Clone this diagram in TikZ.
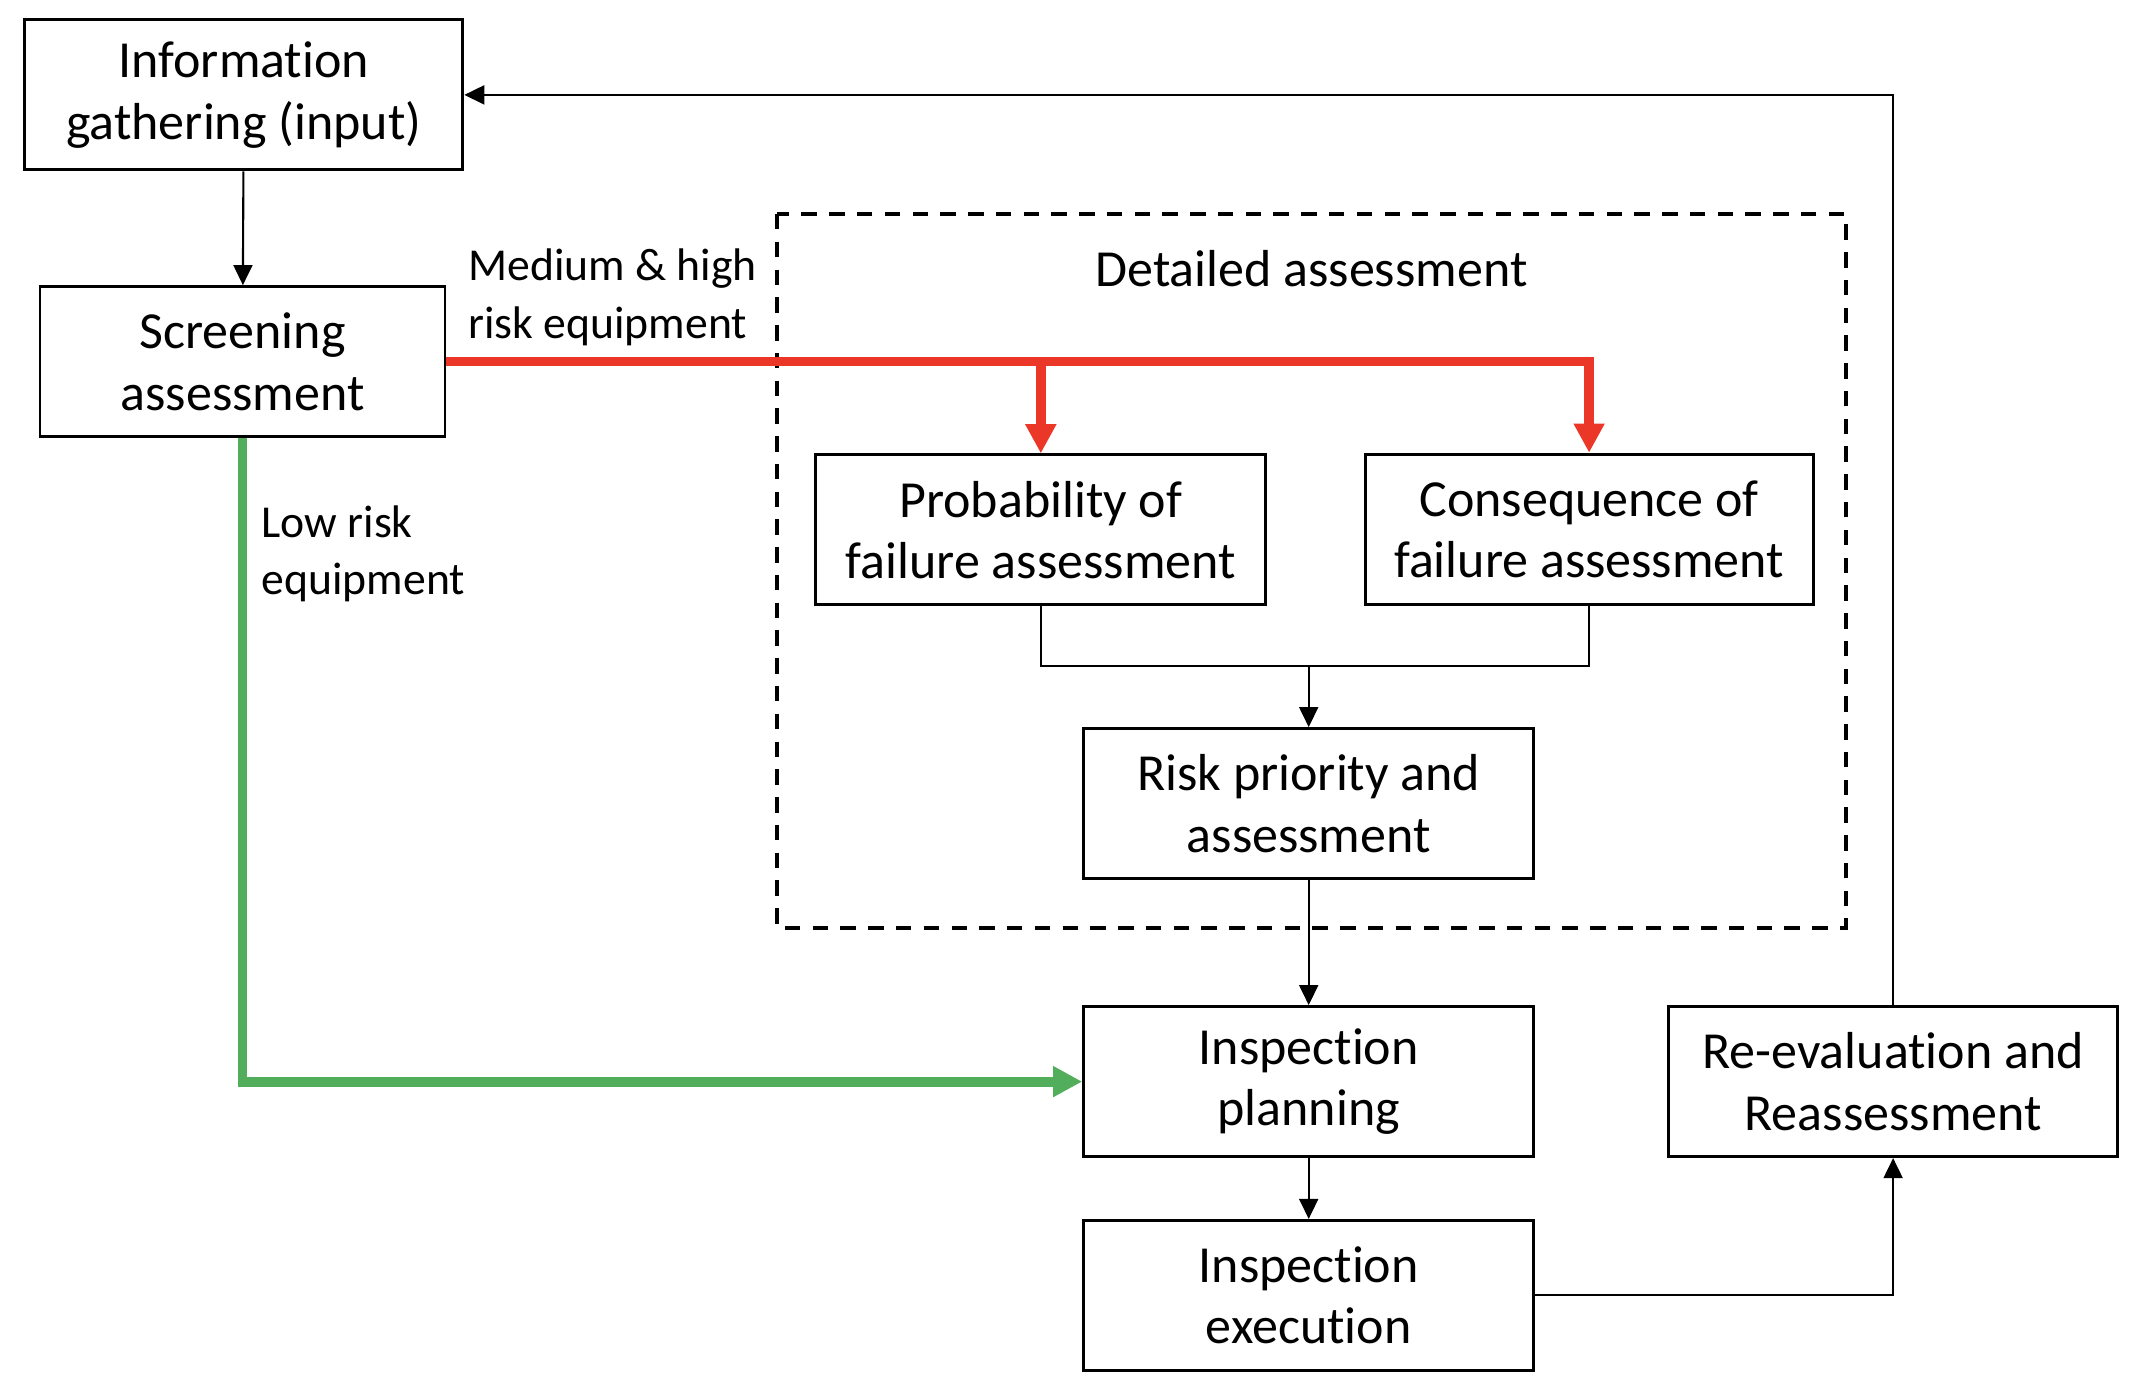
\documentclass[tikz,border=0pt]{standalone}
\usepackage{fontspec}
\setmainfont{Carlito}[Ligatures={NoCommon,NoRare,NoContextual}, Contextuals=NoAlternate]
\usepackage{tikz}
\usetikzlibrary{arrows.meta}

\definecolor{riskred}{RGB}{234,55,40}
\definecolor{lowgreen}{RGB}{82,174,91}

\begin{document}
\begin{tikzpicture}[
    box/.style={draw, line width=0.85pt, minimum height=1.5cm, align=center, inner sep=0pt,
        font=\fontsize{14.8}{17.5}\selectfont},
    lbl/.style={inner sep=0pt, align=left, font=\fontsize{13}{16.4}\selectfont},
    conn/.style={line width=0.6pt, -{Triangle[width=5.4pt,length=5.7pt]}},
    redline/.style={draw=riskred, line width=2.75pt},
    greenline/.style={draw=lowgreen, line width=2.8pt, -{Triangle[width=8.3pt,length=8.3pt]}},
    bigtip/.style={-{Triangle[width=8.3pt,length=8.3pt]}}
]
    \useasboundingbox (0,0) rectangle (21.36,-13.94);
    % left column
    \node[box, minimum width=4.38cm] (info) at (2.438,-0.949) {Information\\gathering (input)};
    \node[box, minimum width=4.05cm] (scr) at (2.425,-3.616) {Screening\\assessment};
    % detailed assessment
    \draw[line width=1.15pt, dash pattern=on 4.4pt off 3.5pt] (7.767,-2.140) rectangle (18.462,-9.277);
    \node[font=\fontsize{14.8}{17.5}\selectfont] (dtitle) at (13.114,-2.684) {Detailed assessment};
    \node[box, minimum width=4.5cm] (prob) at (10.408,-5.299) {Probability of\\failure assessment};
    \node[box, minimum width=4.48cm] (cons) at (15.891,-5.292) {Consequence of\\failure assessment};
    \node[box, minimum width=4.5cm] (risk) at (13.087,-8.036) {Risk priority and\\assessment};
    \coordinate (merge) at (13.087,-6.661);
    % inspection
    \node[box, minimum width=4.5cm] (ip) at (13.087,-10.816) {Inspection\\planning};
    \node[box, minimum width=4.5cm] (ie) at (13.087,-12.954) {Inspection\\execution};
    \node[box, minimum width=4.49cm] (re) at (18.931,-10.816) {Re-evaluation and\\Reassessment};
    % labels
    \node[lbl, anchor=west] (medlbl) at (4.675,-2.970) {Medium \& high\\risk equipment};
    \node[lbl, anchor=west] (lowlbl) at (2.609,-5.538) {Low risk\\equipment};

    \draw[conn] (info) -- (scr);
    \draw[redline] (scr.east) -- (cons.north |- scr.east) -- ([yshift=4pt]cons.north);
    \draw[redline, bigtip] (cons.north |- scr.east) -- (cons.north);
    \draw[redline, bigtip] (prob.north |- scr.east) -- (prob.north);
    \draw[greenline] (scr.south) |- (ip.west);
    \draw[line width=0.6pt] (prob.south) |- (merge) -| (cons.south);
    \draw[conn] (merge) -- (risk.north);
    \draw[conn] (risk) -- (ip);
    \draw[conn] (ip) -- (ie);
    \draw[conn] (ie.east) -| (re.south);
    \draw[conn] (re.north) |- (info.east);
\end{tikzpicture}
\end{document}
